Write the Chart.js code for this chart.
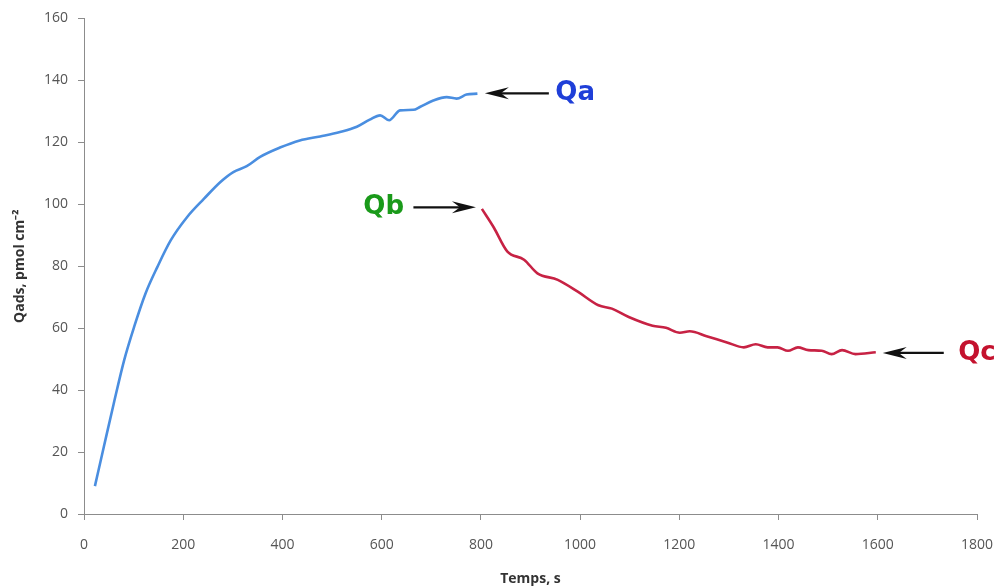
<!DOCTYPE html>
<html>
<head>
<meta charset="utf-8">
<title>Qads vs Temps</title>
<script src="https://cdn.jsdelivr.net/npm/chart.js@4.4.1/dist/chart.umd.min.js"></script>
<style>
  html, body { margin: 0; padding: 0; background: #fff; }
  #wrap { width: 1000px; height: 588px; position: relative; }
</style>
</head>
<body>
<div id="wrap"><canvas id="chart"></canvas></div>
<script>
// adsorption (Qa) and desorption (Qb -> Qc) curves
const timeAds = [22, 40, 60, 81, 101, 124, 148, 175, 208, 242, 275, 301, 328, 355, 395, 435, 476, 516, 550, 576, 597, 615, 637, 664, 677, 704, 731, 751, 771, 793];
const qAds = [9, 21.7, 35.7, 49.7, 60.4, 71.2, 79.8, 88.4, 95.9, 101.8, 107.2, 110.4, 112.3, 115.3, 118.3, 120.6, 121.9, 123.3, 125, 127.3, 128.7, 127.1, 130.3, 130.5, 131.4, 133.5, 134.6, 134.1, 135.4, 135.7];

const timeDes = [802, 826, 853, 887, 914, 955, 996, 1037, 1064, 1098, 1146, 1173, 1201, 1221, 1255, 1296, 1330, 1354, 1378, 1398, 1419, 1439, 1460, 1487, 1507, 1528, 1555, 1596];
const qDes = [98.5, 92.5, 84.8, 82.1, 77.7, 75.6, 71.7, 67.4, 66.3, 63.6, 60.8, 60.1, 58.5, 59, 57.4, 55.4, 53.8, 54.8, 53.8, 53.8, 52.7, 53.8, 52.9, 52.7, 51.6, 52.9, 51.6, 52.2];

// labels with arrows: text, colour, text x, y, arrow from x, arrow to x
const labelText = ['Qa', 'Qb', 'Qc'];
const labelColor = ['#1f3fd8', '#1a9a1a', '#c4122e'];
const labelX = [950, 563, 1762];
const labelY = [135.8, 99, 52];
const arrowFrom = [937, 664, 1733];
const arrowTo = [808, 790, 1610];

const toPoints = (xs, ys) => xs.map((x, i) => ({ x, y: ys[i] }));

const tickFont = { family: "'Open Sans', sans-serif", size: 14 };
const titleFont = { family: "'Open Sans', sans-serif", size: 14, weight: 'bold' };

// draws the Qa / Qb / Qc callouts
const calloutPlugin = {
  id: 'callouts',
  afterDatasetsDraw(chart) {
    const { ctx, scales } = chart;
    const xs = scales.x, ys = scales.y;
    ctx.save();
    for (let i = 0; i < labelText.length; i++) {
      const y = ys.getPixelForValue(labelY[i]);
      const x0 = xs.getPixelForValue(arrowFrom[i]);
      const x1 = xs.getPixelForValue(arrowTo[i]);
      const dir = Math.sign(x1 - x0);
      ctx.strokeStyle = '#111';
      ctx.fillStyle = '#111';
      ctx.lineWidth = 2.2;
      ctx.beginPath();
      ctx.moveTo(x0, y);
      ctx.lineTo(x1 - dir * 12, y);
      ctx.stroke();
      // arrow head
      ctx.beginPath();
      ctx.moveTo(x1, y);
      ctx.lineTo(x1 - dir * 24, y - 6);
      ctx.lineTo(x1 - dir * 16, y);
      ctx.lineTo(x1 - dir * 24, y + 6);
      ctx.closePath();
      ctx.fill();

      ctx.font = "bold 26px 'DejaVu Sans', sans-serif";
      ctx.fillStyle = labelColor[i];
      ctx.textBaseline = 'middle';
      ctx.textAlign = 'left';
      ctx.fillText(labelText[i], xs.getPixelForValue(labelX[i]), y);
    }
    ctx.restore();
  },
};

new Chart(document.getElementById('chart'), {
  type: 'scatter',
  data: {
    datasets: [
      {
        label: 'Adsorption',
        data: toPoints(timeAds, qAds),
        showLine: true,
        borderColor: '#4a8ee0',
        borderWidth: 2.6,
        pointRadius: 0,
        cubicInterpolationMode: 'monotone',
      },
      {
        label: 'Desorption',
        data: toPoints(timeDes, qDes),
        showLine: true,
        borderColor: '#c72244',
        borderWidth: 2.6,
        pointRadius: 0,
        cubicInterpolationMode: 'monotone',
      },
    ],
  },
  options: {
    responsive: true,
    maintainAspectRatio: false,
    animation: false,
    layout: { padding: { top: 18, right: 23, bottom: 0, left: 0 } },
    plugins: {
      legend: { display: false },
      tooltip: { enabled: false },
    },
    scales: {
      x: {
        type: 'linear',
        min: 0,
        max: 1800,
        border: { color: '#8c8c8c', width: 1 },
        grid: { drawOnChartArea: false, color: '#8c8c8c', tickLength: 6 },
        ticks: { stepSize: 200, color: '#555', font: tickFont, padding: 17, maxRotation: 0, callback: v => String(v) },
        title: { display: true, text: 'Temps, s', color: '#333', font: titleFont, padding: { top: 0, bottom: 1 } },
        afterFit: s => {
          s.height = 74;
          // keep the plot edge fixed, the last label fits inside the outer padding
          s.paddingLeft = 0;
          s.paddingRight = 0;
        },
      },
      y: {
        min: 0,
        max: 160,
        border: { color: '#8c8c8c', width: 1 },
        grid: { drawOnChartArea: false, color: '#8c8c8c', tickLength: 6 },
        ticks: { stepSize: 20, color: '#555', font: tickFont, padding: 10 },
        title: { display: true, text: 'Qads, pmol cm⁻²', color: '#333', font: titleFont, padding: { top: 12, bottom: 0 } },
        afterFit: s => { s.width = 84; },
      },
    },
  },
  plugins: [calloutPlugin],
});
</script>
</body>
</html>
